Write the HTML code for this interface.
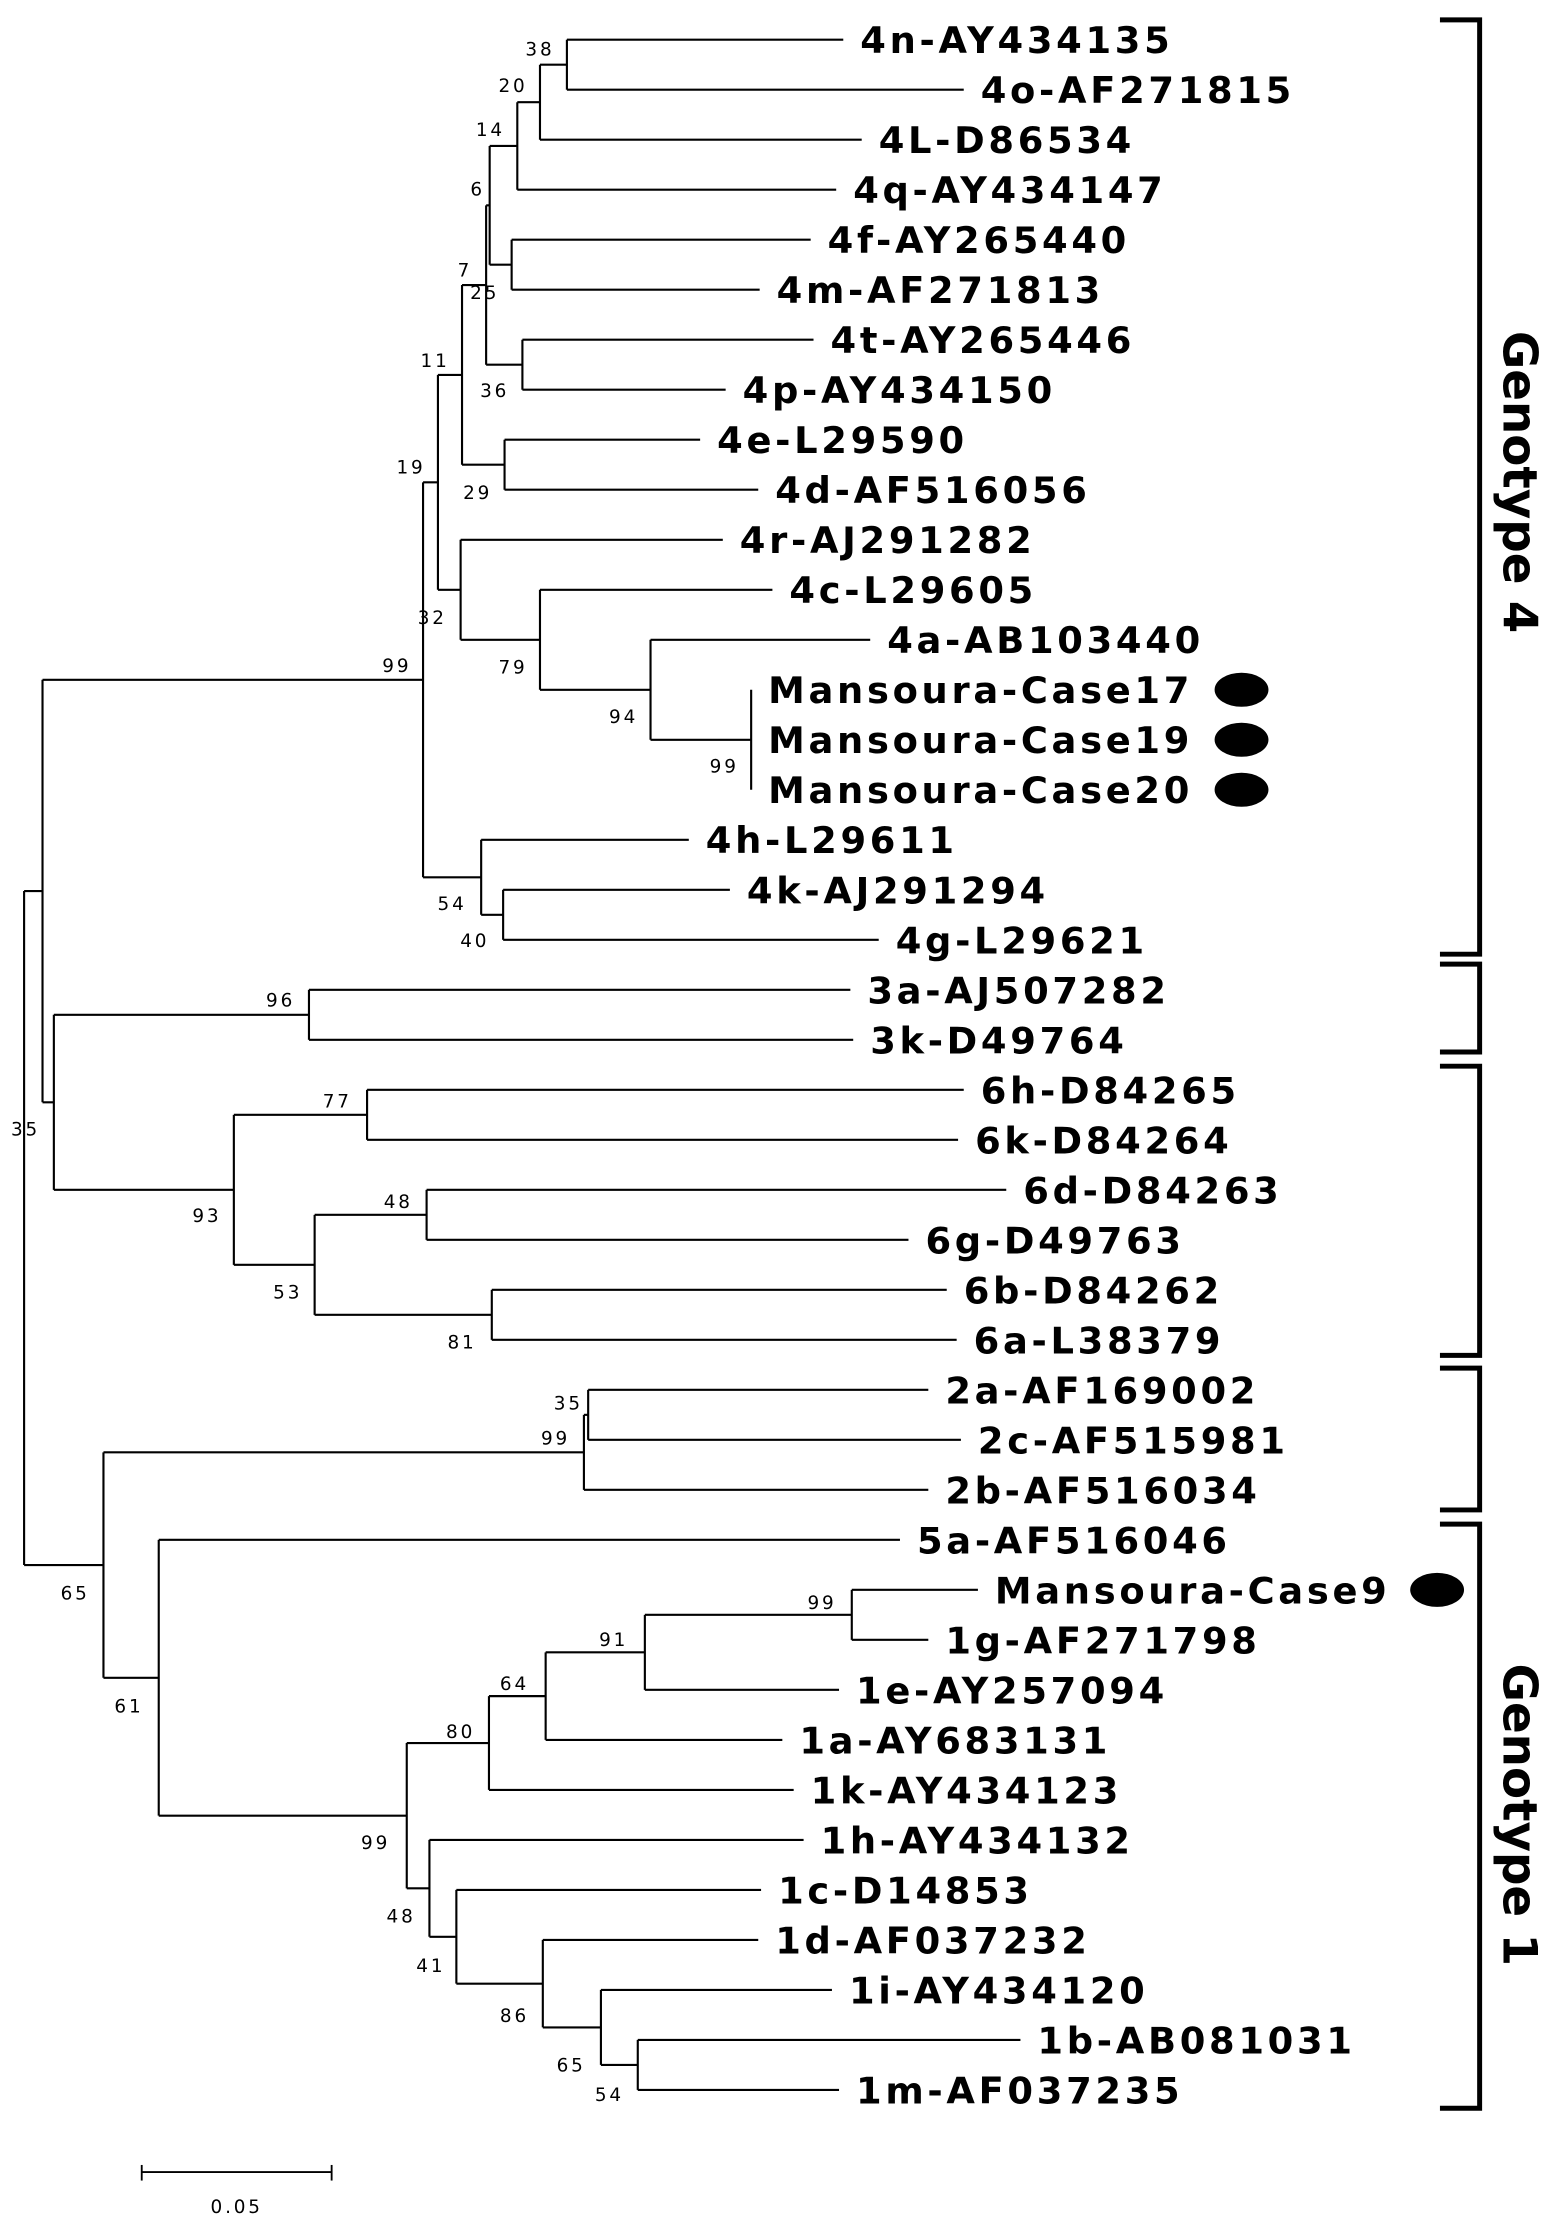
<!DOCTYPE html>
<html><head><meta charset="utf-8"><style>
html,body{margin:0;padding:0;background:#fff;}
svg{display:block;}
.leaf{font-family:"DejaVu Sans","Liberation Sans",sans-serif;font-weight:bold;font-size:26px;letter-spacing:2.6px;fill:#000;}
.bs{font-family:"DejaVu Sans","Liberation Sans",sans-serif;font-size:13px;letter-spacing:2px;fill:#000;}
.gt{font-family:"DejaVu Sans","Liberation Sans",sans-serif;font-weight:bold;font-size:33px;fill:#000;}
</style></head><body>
<svg id="chart" width="1559" height="2216" viewBox="0 0 1100 1563" preserveAspectRatio="none" xmlns="http://www.w3.org/2000/svg">
<g id="branches" stroke="#000" stroke-width="1.5" fill="none"></g>
<g id="labels"></g>
<g id="brackets" stroke="#000" stroke-width="3.5" fill="none"></g>
<text class="gt" transform="translate(1061,340) rotate(90)" text-anchor="middle">Genotype 4</text>
<text class="gt" transform="translate(1061,1280) rotate(90)" text-anchor="middle">Genotype 1</text>
<g stroke="#000" stroke-width="1.3">
<line x1="100" y1="1532" x2="234" y2="1532"/><line x1="100" y1="1527" x2="100" y2="1538"/><line x1="234" y1="1527" x2="234" y2="1538"/>
</g>
<text class="bs" x="167" y="1561" text-anchor="middle">0.05</text>
</svg>
<script>
const leafNames=["4n-AY434135","4o-AF271815","4L-D86534","4q-AY434147","4f-AY265440","4m-AF271813","4t-AY265446","4p-AY434150","4e-L29590","4d-AF516056","4r-AJ291282","4c-L29605","4a-AB103440","Mansoura-Case17","Mansoura-Case19","Mansoura-Case20","4h-L29611","4k-AJ291294","4g-L29621","3a-AJ507282","3k-D49764","6h-D84265","6k-D84264","6d-D84263","6g-D49763","6b-D84262","6a-L38379","2a-AF169002","2c-AF515981","2b-AF516034","5a-AF516046","Mansoura-Case9","1g-AF271798","1e-AY257094","1a-AY683131","1k-AY434123","1h-AY434132","1c-D14853","1d-AF037232","1i-AY434120","1b-AB081031","1m-AF037235"];
const leafEnd=[595,680,608,590,572,536,574,512,494,535,510,545,614,530,530,530,486,515,620,600,602,680,676,710,641,668,675,655,678,655,635,690,655,592,552,560,567,537,535,587,720,592];
const markedLeaves=["Mansoura-Case17","Mansoura-Case19","Mansoura-Case20","Mansoura-Case9"];
const nodeIds=["n38","n20","n14","n4f","n6","n36","n25","n29","n7","n99c","n94","n79","n32","n11","n40","n54","g4","n96","n77","n48","n81","n53","n93","n38b","n30","n35b","n99b","n99a","n91","n64","n80","n54b","n65b","n86","n41","n48b","n99d","n61","n65","root"];
const nodeX=[400,381,365,361,345.5,368.6,343,356,326,530,459,381,325,309,355,339.5,298.5,218,259,301,347,222,165,38,30,415,412,601,455,385,345,450,424,383,322,303,287,112,73,17];
const nodeKids=[[0,1],["n38",2],["n20",3],[4,5],["n14","n4f"],[6,7],["n6","n36"],[8,9],["n25","n29"],[13,14,15],[12,"n99c"],[11,"n94"],[10,"n79"],["n7","n32"],[17,18],[16,"n40"],["n11","n54"],[19,20],[21,22],[23,24],[25,26],["n48","n81"],["n77","n53"],["n96","n93"],["g4","n38b"],[27,28],["n35b",29],[31,32],["n99a",33],["n91",34],["n64",35],[40,41],[39,"n54b"],[38,"n65b"],[37,"n86"],[36,"n41"],["n80","n48b"],[30,"n99d"],["n99b","n61"],["n30","n65"]];
const nodeBoot=["38","20","14","","6","36","25","29","7","99","94","79","32","11","40","54","19","96","77","48","81","53","93","","","35","99","99","91","64","80","54","65","86","41","48","99","61","65","35"];
const bootPos=[[381,39],[362,65],[346,96],null,[337,138],[349,280],[342,211],[337,352],[328,195],[511,545],[440,510],[362,475],[305,440],[307,259],[335,668],[319,642],[290,334],[198,710],[238,781],[281,852],[326,951],[203,916],[146,862],null,null,[401,994],[392,1019],[580,1135],[433,1161],[363,1192],[325,1226],[430,1482],[403,1461],[363,1426],[304,1391],[283,1356],[265,1304],[91,1208],[53,1128],[18,801]];
const extraBoot=[["99",[280,474]]];

const y0=28, dy=35.27;
const yScale=i=>y0+i*dy;
const NS="http://www.w3.org/2000/svg";
const br=document.getElementById('branches'), lb=document.getElementById('labels');
const idx={}; nodeIds.forEach((id,i)=>idx[id]=i);
const memo={};
function nodeY(id){
  if(typeof id==='number') return yScale(id);
  if(memo[id]!==undefined) return memo[id];
  const ys=nodeKids[idx[id]].map(nodeY);
  memo[id]=(Math.min(...ys)+Math.max(...ys))/2; return memo[id];
}
function kidX(k){return typeof k==='number'? leafEnd[k] : nodeX[idx[k]];}
function line(x1,y1,x2,y2,name){
  const l=document.createElementNS(NS,'line');
  l.setAttribute('x1',x1);l.setAttribute('y1',y1);l.setAttribute('x2',x2);l.setAttribute('y2',y2);
  
  
  br.appendChild(l);
}
nodeIds.forEach((id,i)=>{
  const x=nodeX[i]; const ys=nodeKids[i].map(nodeY);
  line(x,Math.min(...ys),x,Math.max(...ys),'node-'+id);
  nodeKids[i].forEach(k=>{ line(x,nodeY(k),kidX(k),nodeY(k),'branch-'+(typeof k==='number'?leafNames[k]:k)); });
  if(bootPos[i]){
    const t=document.createElementNS(NS,'text');
    t.setAttribute('class','bs');t.setAttribute('x',bootPos[i][0]);t.setAttribute('y',bootPos[i][1]);t.setAttribute('text-anchor','middle');
    t.textContent=nodeBoot[i];
    
    
    lb.appendChild(t);
  }
});
extraBoot.forEach(e=>{
  const t=document.createElementNS(NS,'text');
  t.setAttribute('class','bs');t.setAttribute('x',e[1][0]);t.setAttribute('y',e[1][1]);t.setAttribute('text-anchor','middle');
  t.textContent=e[0];
  
  
  lb.appendChild(t);
});
leafNames.forEach((n,i)=>{
  const t=document.createElementNS(NS,'text');
  t.setAttribute('class','leaf');t.setAttribute('x',leafEnd[i]+12);t.setAttribute('y',yScale(i)+9.5);
  t.textContent=n;
  
  
  lb.appendChild(t);
  if(markedLeaves.includes(n)){
    const e=document.createElementNS(NS,'ellipse');
    const cx = n==="Mansoura-Case9"?1014:876;
    e.setAttribute('cx',cx);e.setAttribute('cy',yScale(i));e.setAttribute('rx',19);e.setAttribute('ry',12);e.setAttribute('fill','#000');
    
    
    lb.appendChild(e);
  }
});
const brk=document.getElementById('brackets');
const bracketSpans=[[14,673],[680,742],[752,956],[965,1065],[1075,1487]];
const bracketNames=['genotype-4','genotype-3','genotype-6','genotype-2','genotype-1'];
bracketSpans.forEach((s,i)=>{
  const p=document.createElementNS(NS,'path');
  p.setAttribute('d',`M1016 ${s[0]} H1044 V${s[1]} H1016`);
  
  
  brk.appendChild(p);
});
</script>
</body></html>
